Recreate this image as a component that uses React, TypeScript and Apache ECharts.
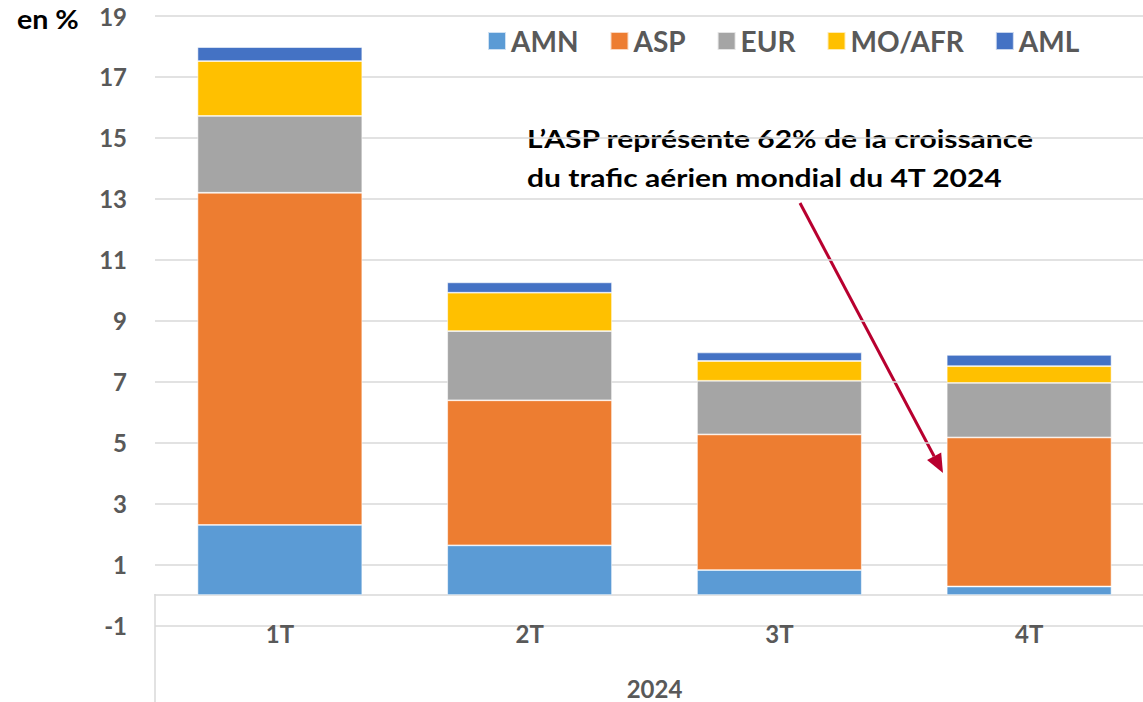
import React, { useEffect, useRef } from "react";
import * as echarts from "echarts";

const categories = ["1T", "2T", "3T", "4T"];
const yearLabel = "2024";
const seriesNames = ["AMN", "ASP", "EUR", "MO/AFR", "AML"];
const amn = [2.3, 1.63, 0.82, 0.28];
const asp = [10.9, 4.76, 4.45, 4.89];
const eur = [2.52, 2.27, 1.76, 1.79];
const moafr = [1.8, 1.26, 0.65, 0.55];
const aml = [0.46, 0.34, 0.28, 0.37];
const colors = ["#5B9BD5", "#ED7D31", "#A5A5A5", "#FFC000", "#4472C4"];
const unitLabel = "en %";
const noteLines = [
  "L\u2019ASP représente 62% de la croissance",
  "du trafic aérien mondial du 4T 2024",
];

const FONT = "Lato, 'Noto Sans', sans-serif";

export default function App() {
  const ref = useRef<HTMLDivElement>(null);
  useEffect(() => {
    if (!ref.current) return;
    const chart = echarts.init(ref.current, null, { renderer: "svg" });
    const values = [amn, asp, eur, moafr, aml];
    const tip = [943, 473];
    const start = [800, 203];
    const dx = tip[0] - start[0];
    const dy = tip[1] - start[1];
    const len = Math.sqrt(dx * dx + dy * dy);
    const ux = dx / len;
    const uy = dy / len;
    const headL = 19;
    const headW = 8;
    const bx = tip[0] - ux * headL;
    const by = tip[1] - uy * headL;
    chart.setOption({
      animation: false,
      backgroundColor: "#ffffff",
      color: colors,
      textStyle: { fontFamily: FONT },
      grid: { left: 155, right: 6, top: 16, bottom: 76.5, containLabel: false, outerBoundsMode: "none" },
      legend: {
        left: 482,
        top: 22,
        itemWidth: 18,
        itemHeight: 18,
        itemGap: 31,
        icon: "rect",
        textStyle: { fontFamily: FONT, fontSize: 28, fontWeight: "bold", color: "#595959", padding: [0, 0, 0, 0] },
        data: seriesNames,
      },
      xAxis: {
        type: "category",
        data: categories,
        axisLine: { onZero: true, lineStyle: { color: "#D9D9D9", width: 1.5 } },
        axisTick: { show: false },
        axisLabel: { margin: -4, fontFamily: FONT, fontSize: 24, fontWeight: "bold", color: "#595959" },
        name: yearLabel,
        nameLocation: "middle",
        nameGap: 52,
        nameMoveOverlap: false,
        nameTextStyle: { fontFamily: FONT, fontSize: 24, lineHeight: 22, fontWeight: "bold", color: "#595959" },
      },
      yAxis: {
        type: "value",
        min: -1,
        max: 19,
        interval: 2,
        axisLine: { show: false },
        axisTick: { show: false },
        splitLine: { lineStyle: { color: "#D9D9D9", width: 1.5 } },
        axisLabel: { margin: 28, fontFamily: FONT, fontSize: 24, fontWeight: "bold", color: "#595959" },
      },
      series: seriesNames.map((name, i) => ({
        name,
        type: "bar",
        stack: "total",
        barCategoryGap: "34%",
        data: values[i],
        itemStyle: { color: colors[i], borderColor: "rgba(255,255,255,0.7)", borderWidth: 0.8 },
      })),
      graphic: [
        {
          type: "line",
          shape: { x1: 155, y1: 594, x2: 155, y2: 702 },
          style: { stroke: "#D9D9D9", lineWidth: 1.5 },
        },
        {
          type: "text",
          x: 17,
          y: 5,
          scaleX: 1.06,
          style: { text: unitLabel, font: `bold 27px ${FONT}`, fill: "#000000" },
        },
        {
          type: "text",
          x: 527,
          y: 119,
          scaleX: 1.25,
          style: {
            text: noteLines.join("\n"),
            font: `bold 24px ${FONT}`,
            fill: "#000000",
            lineHeight: 39,
          },
        },
        {
          type: "line",
          shape: { x1: start[0], y1: start[1], x2: bx, y2: by },
          style: { stroke: "#B8002F", lineWidth: 3 },
        },
        {
          type: "polygon",
          shape: {
            points: [
              [tip[0], tip[1]],
              [bx - uy * headW, by + ux * headW],
              [bx + uy * headW, by - ux * headW],
            ],
          },
          style: { fill: "#B8002F" },
        },
      ],
    });
    return () => chart.dispose();
  }, []);
  return (
    <div style={{ position: "fixed", left: 0, top: 0, width: 1143, height: 702, overflow: "hidden", background: "#fff" }}>
      <div ref={ref} style={{ width: 1160, height: 702 }} />
    </div>
  );
}
